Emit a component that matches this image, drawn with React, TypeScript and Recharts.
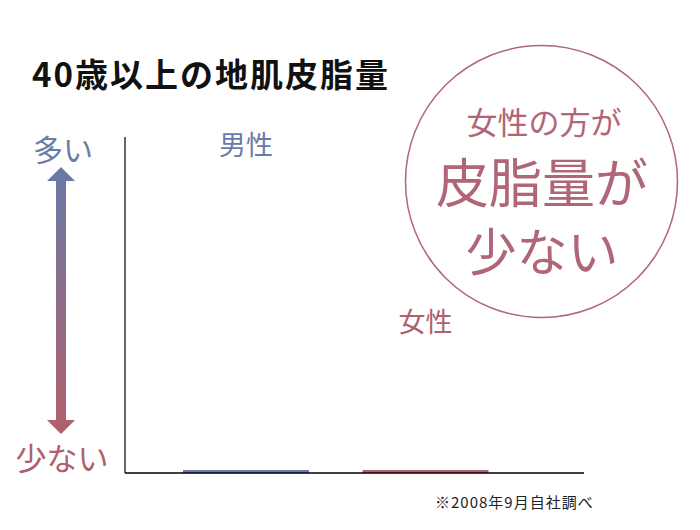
import { BarChart, Bar, XAxis, YAxis, LabelList } from 'recharts'

const categories = ['男性', '女性']
const sebumLevels = [0.9, 0.9]
const footnote = '※2008年9月自社調べ'

const BLUE = '#6a7ba8'
const RED = '#b0606d'
const FONT = '"Noto Sans CJK JP", "Noto Sans", sans-serif'

// baseline of each category label (above where the bars would rise)
const LABEL_BASELINES = [155, 332]
const LABEL_COLORS = [BLUE, RED]

const data = categories.map((name, i) => ({ name, value: sebumLevels[i] }))

function CategoryLabel(props: any) {
  const { x, width, index } = props
  return (
    <text
      x={Number(x) + Number(width) / 2}
      y={LABEL_BASELINES[index]}
      textAnchor="middle"
      fontSize={27}
      fontFamily={FONT}
      fill={LABEL_COLORS[index]}
    >
      {categories[index]}
    </text>
  )
}

function BarShape(props: any) {
  const { x, y, width, height, index } = props
  return <rect x={x} y={y} width={width} height={height} fill={LABEL_COLORS[index]} />
}

export default function App() {
  return (
    <div style={{ position: 'absolute', left: 0, top: 0, width: 700, height: 530, background: '#fff', fontFamily: FONT }}>
      <BarChart
        width={700}
        height={530}
        data={data}
        margin={{ top: 137, right: 116, left: 105, bottom: 37 }}
      >
        <XAxis
          dataKey="name"
          height={20}
          tick={false}
          tickLine={false}
          axisLine={{ stroke: '#000', strokeWidth: 1.5 }}
          padding={{ left: 31, right: 69 }}
        />
        <YAxis
          width={20}
          domain={[0, 100]}
          tick={false}
          tickLine={false}
          axisLine={{ stroke: '#000', strokeWidth: 1.2 }}
        />
        <Bar dataKey="value" barSize={126} shape={<BarShape />} isAnimationActive={false}>
          <LabelList dataKey="name" content={<CategoryLabel />} />
        </Bar>
      </BarChart>

      <svg
        width={700}
        height={530}
        style={{ position: 'absolute', left: 0, top: 0, pointerEvents: 'none' }}
      >
        <defs>
          <linearGradient id="arrowGrad" x1="0" y1="0" x2="0" y2="1">
            <stop offset="0%" stopColor="#6879a6" />
            <stop offset="100%" stopColor="#b25f6a" />
          </linearGradient>
        </defs>
        <text x={32} y={87} fontSize={33} fontWeight="bold" letterSpacing={2} fill="#111" fontFamily={FONT}>
          40歳以上の地肌皮脂量
        </text>

        <text x={63} y={161} textAnchor="middle" fontSize={30} fill={BLUE} fontFamily={FONT}>
          多い
        </text>
        <text x={62} y={470} textAnchor="middle" fontSize={31} fill={RED} fontFamily={FONT}>
          少ない
        </text>
        <path
          d="M61 167 L75 181 L66 181 L66 420 L75 420 L61 434 L47 420 L56 420 L56 181 L47 181 Z"
          fill="url(#arrowGrad)"
        />

        <circle cx={541.5} cy={181.5} r={136} fill="none" stroke="#b06676" strokeWidth={1.5} />
        <text x={544} y={134} textAnchor="middle" fontSize={31} fill="#b06676" fontFamily={FONT}>
          女性の方が
        </text>
        <text x={542} y={203} textAnchor="middle" fontSize={53} fill="#b06676" fontFamily={FONT}>
          皮脂量が
        </text>
        <text x={542} y={271} textAnchor="middle" fontSize={51} fill="#b06676" fontFamily={FONT}>
          少ない
        </text>

        <text x={435} y={508} fontSize={15} letterSpacing={1} fill="#222" fontFamily={FONT}>
          {footnote}
        </text>
      </svg>
    </div>
  )
}
